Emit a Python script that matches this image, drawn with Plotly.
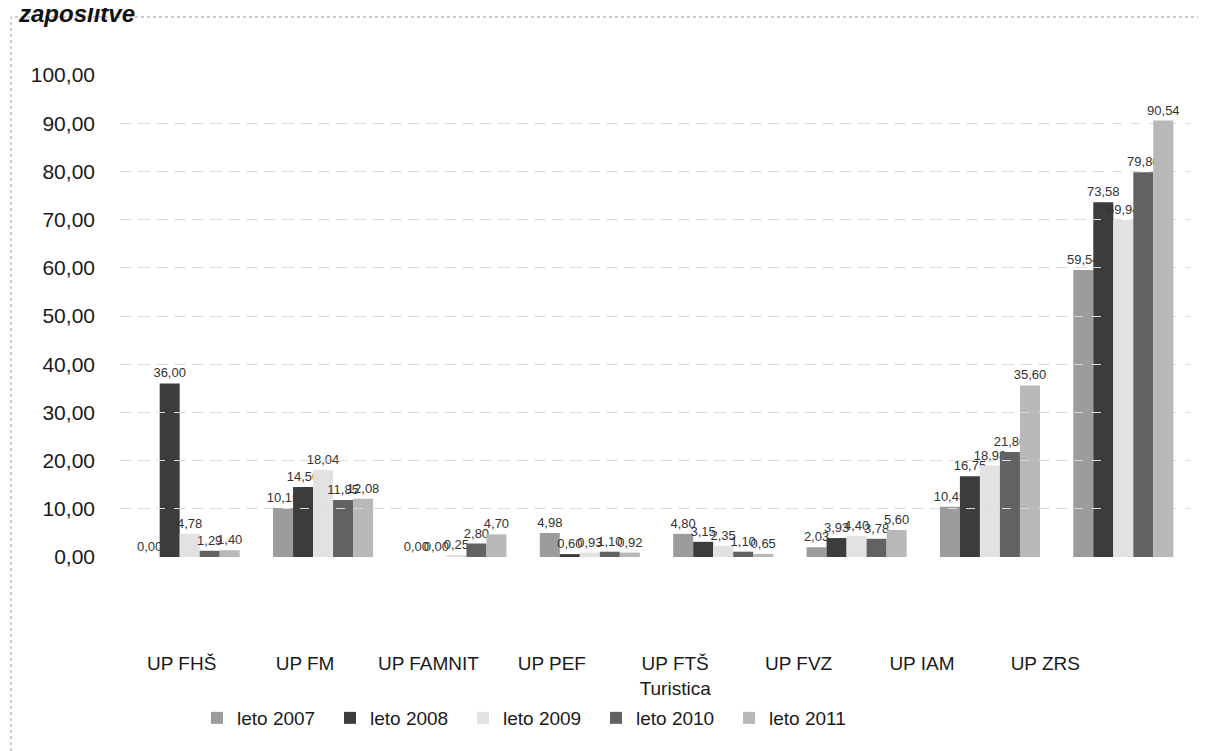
import plotly.graph_objects as go

categories = ["UP FHŠ", "UP FM", "UP FAMNIT", "UP PEF", "UP FTŠ<br>Turistica", "UP FVZ", "UP IAM", "UP ZRS"]
series_names = ["leto 2007", "leto 2008", "leto 2009", "leto 2010", "leto 2011"]
leto_2007 = [0.00, 10.15, 0.00, 4.98, 4.80, 2.03, 10.45, 59.54]
leto_2008 = [36.00, 14.50, 0.00, 0.60, 3.15, 3.93, 16.75, 73.58]
leto_2009 = [4.78, 18.04, 0.25, 0.93, 2.35, 4.40, 18.98, 69.94]
leto_2010 = [1.29, 11.85, 2.80, 1.10, 1.10, 3.78, 21.80, 79.80]
leto_2011 = [1.40, 12.08, 4.70, 0.92, 0.65, 5.60, 35.60, 90.54]
series_values = [leto_2007, leto_2008, leto_2009, leto_2010, leto_2011]
y_ticks = [0, 10, 20, 30, 40, 50, 60, 70, 80, 90, 100]

colors = ["#9c9c9c", "#3c3c3c", "#e2e2e2", "#626262", "#b8b8b8"]
FONT = "Liberation Sans, Arial, sans-serif"

fig = go.Figure()
for name, vals, col in zip(series_names, series_values, colors):
    fig.add_trace(go.Bar(
        x=list(range(len(categories))), y=vals, name=name,
        marker=dict(color=col, line=dict(width=0)),
        texttemplate="%{y:.2f}", textposition="outside", constraintext="none",
        textfont=dict(size=13, color="#333333", family=FONT),
        cliponaxis=False,
    ))

W, H = 1206, 751
OFF = 8  # page body margin
ml, mr, mt, mb = 100, 6, 67, 109
pw = W - ml - mr
ph = H - mt - mb
def px(x):
    return (x - OFF - ml) / pw
def py(y):
    return (H - mb - (y - OFF)) / ph

fig.update_layout(
    width=W, height=H,
    margin=dict(l=ml, r=mr, t=mt, b=mb, autoexpand=False),
    paper_bgcolor="white", plot_bgcolor="rgba(0,0,0,0)",
    separators=", ",
    barmode="group", bargap=0.25, bargroupgap=0,
    font=dict(family=FONT, color="#1a1a1a"),
    xaxis=dict(
        domain=[px(123), px(1190)], anchor="y",
        range=[-0.5, len(categories) - 0.5],
        showticklabels=False, showgrid=False, zeroline=False, showline=False, ticks="",
        automargin=False,
    ),
    xaxis2=dict(
        domain=[px(120), px(1107)], anchor="free", position=0,
        range=[-0.5, len(categories) - 0.5],
        tickmode="array", tickvals=list(range(len(categories))), ticktext=categories,
        tickfont=dict(size=19, family=FONT, color="#1a1a1a"),
        showgrid=False, zeroline=False, showline=False, ticks="",
        automargin=False,
    ),
    yaxis=dict(
        domain=[py(557), 1], anchor="x",
        range=[0, 100], tickvals=y_ticks, tickformat=".2f",
        tickfont=dict(size=21, family=FONT, color="#1a1a1a"),
        ticklabelstandoff=27,
        showgrid=True, gridcolor="#dcdcdc", griddash="dash", gridwidth=1,
        zeroline=False, showline=False, ticks="",
        automargin=False,
    ),
    legend=dict(
        orientation="h", x=px(197), xanchor="left", y=py(718), yanchor="middle",
        font=dict(size=19, family=FONT, color="#1a1a1a"),
        itemwidth=30, entrywidth=88, entrywidthmode="pixels",
        bgcolor="rgba(0,0,0,0)",
    ),
    showlegend=True,
)

# invisible helper trace so the label axis is drawn
fig.add_trace(go.Scatter(x=[0], y=[0], xaxis="x2", yaxis="y", mode="markers",
                         marker=dict(opacity=0), showlegend=False, hoverinfo="skip"))

fig.add_annotation(
    text="<b><i>zaposlitve</i></b>", xref="paper", yref="paper",
    x=px(16), y=py(29), xanchor="left", yanchor="bottom", showarrow=False,
    font=dict(size=24, family=FONT, color="#111111"),
)
fig.add_shape(type="rect", xref="paper", yref="paper",
              x0=px(11), x1=px(1204), y0=py(758), y1=py(17),
              line=dict(color="#9a9a9a", width=1, dash="dot"), layer="below")

fig.write_html("out.html")
